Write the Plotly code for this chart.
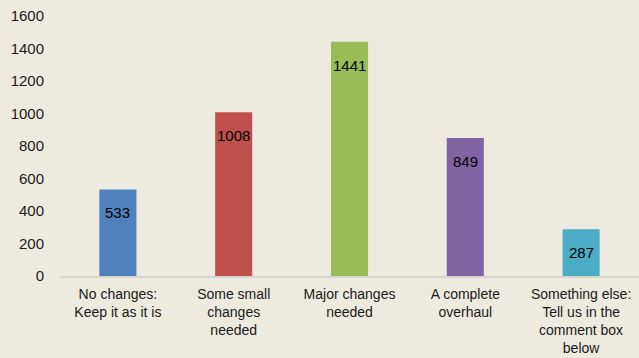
import plotly.graph_objects as go

categories = ["No changes:<br>Keep it as it is", "Some small<br>changes<br>needed",
              "Major changes<br>needed", "A complete<br>overhaul",
              "Something else:<br>Tell us in the<br>comment box<br>below"]
values = [533, 1008, 1441, 849, 287]
colors = ["#4F81BD", "#C0504D", "#9BBB59", "#8064A2", "#4BACC6"]
y_ticks = [0, 200, 400, 600, 800, 1000, 1200, 1400, 1600]

bg = "#EDEBE0"
fnt = "Liberation Sans, Arial, sans-serif"

fig = go.Figure(go.Bar(x=list(range(len(categories))), y=values, marker_color=colors,
                       marker_line_width=0, width=0.32))

for i, v in enumerate(values):
    fig.add_annotation(x=i, y=v, text=str(v), showarrow=False, yanchor="top",
                       yshift=-13, font=dict(family=fnt, size=15, color="#000000"))

fig.update_layout(
    width=639, height=358, paper_bgcolor=bg, plot_bgcolor=bg,
    margin=dict(l=60, r=0, t=16, b=82), showlegend=False,
    font=dict(family=fnt, size=15, color="#1a1a1a"),
    xaxis=dict(tickmode="array", tickvals=list(range(len(categories))), ticktext=categories,
               range=[-0.5, len(categories) - 0.5], showgrid=False, zeroline=False,
               showline=True, linecolor="#D9D6D0", linewidth=2, automargin=False,
               ticks="outside", ticklen=4, tickcolor=bg, tickfont=dict(size=14)),
    yaxis=dict(range=[0, 1600], tickvals=y_ticks, showgrid=False, zeroline=False,
               showline=False, ticks="outside", ticklen=12, tickcolor=bg, automargin=False,
               tickfont=dict(size=15)),
)

fig.write_html("out.html")
